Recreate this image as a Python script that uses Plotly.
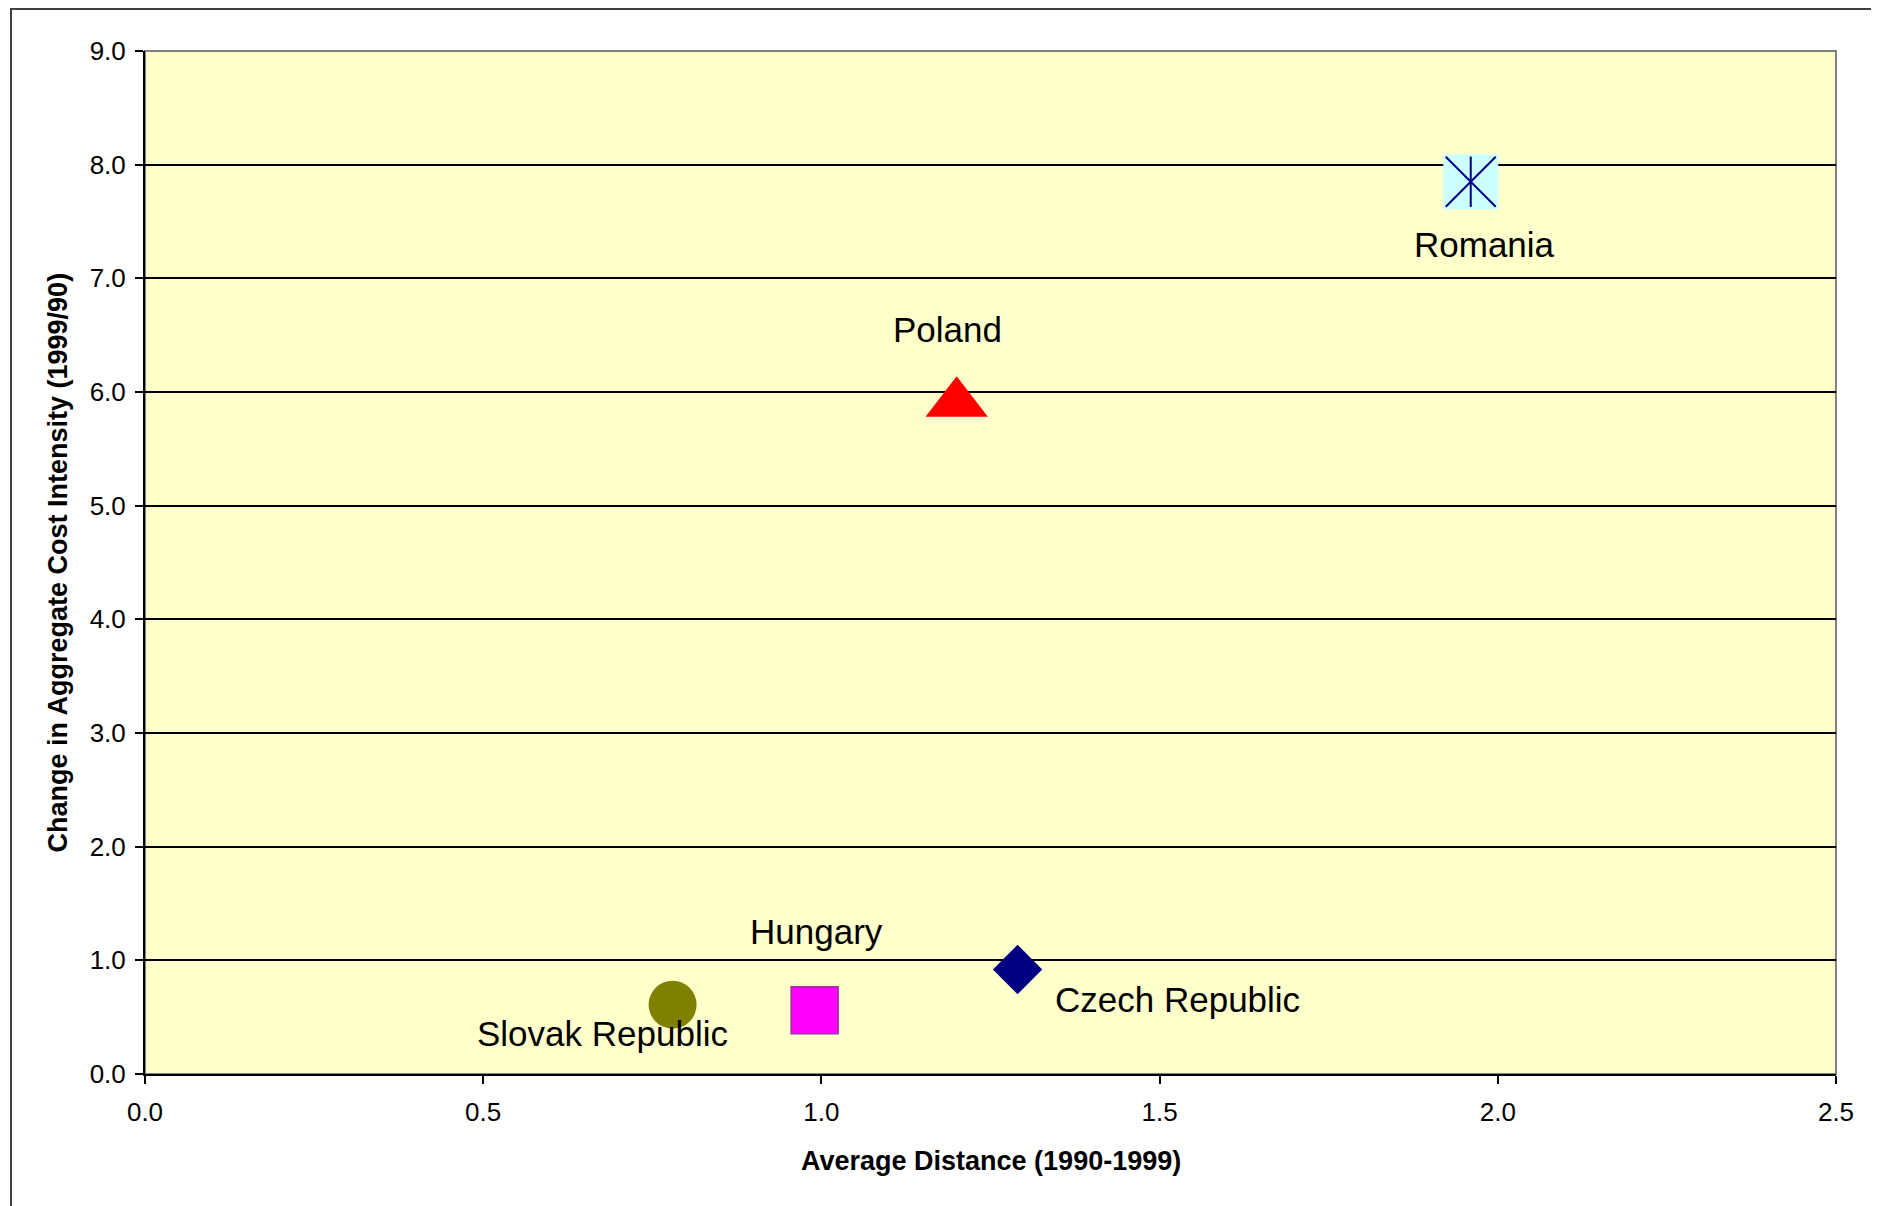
import plotly.graph_objects as go

# ---- data ----
countries = ["Slovak Republic", "Hungary", "Czech Republic", "Poland", "Romania"]
avg_distance = [0.78, 0.99, 1.29, 1.20, 1.96]
cost_intensity_change = [0.61, 0.56, 0.92, 5.90, 7.85]
x_ticks = [0.0, 0.5, 1.0, 1.5, 2.0, 2.5]
y_ticks = [0.0, 1.0, 2.0, 3.0, 4.0, 5.0, 6.0, 7.0, 8.0, 9.0]

# ---- styles ----
styles = {
    "Slovak Republic": dict(symbol="circle", size=48, color="#808000", line=dict(width=0, color="#808000")),
    "Hungary": dict(symbol="square", size=47, color="#FF00FF", line=dict(width=1.5, color="#993399")),
    "Czech Republic": dict(symbol="diamond", size=38, color="#000080", line=dict(width=0, color="#000080")),
    "Poland": dict(symbol="triangle-up", size=54, color="#FF0000", line=dict(width=0, color="#FF0000")),
    "Romania": dict(symbol="square", size=55, color="#CCFFFF", line=dict(width=0, color="#CCFFFF")),
}
label_offsets = {
    "Slovak Republic": (-70, -29),
    "Hungary": (2, 79),
    "Czech Republic": (160, -30),
    "Poland": (-9, 74),
    "Romania": (14, -63),
}

OFF = 8  # page body margin
SW, SH = 1879, 1206
W, H = SW - OFF, SH - OFF
L = 145 - OFF
T = 51 - OFF
R = W - (1836 - OFF)
B = H - (1074 - OFF)
pw, ph = W - L - R, H - T - B

def px_to_paper_x(sx):
    return (sx - OFF - L) / pw

def px_to_paper_y(sy):
    return (T + ph - (sy - OFF)) / ph

fig = go.Figure()
for c, xv, yv in zip(countries, avg_distance, cost_intensity_change):
    s = styles[c]
    fig.add_trace(go.Scatter(
        x=[xv], y=[yv], mode="markers", name=c, showlegend=False,
        marker=dict(symbol=s["symbol"], size=s["size"], color=s["color"], line=s["line"]),
        hoverinfo="text", text=[c],
    ))

# Romania star overlay
ri = countries.index("Romania")
fig.add_trace(go.Scatter(
    x=[avg_distance[ri]], y=[cost_intensity_change[ri]], mode="markers", showlegend=False,
    marker=dict(symbol="x-thin-open", size=50, color="#000080", line=dict(width=2, color="#000080")),
    hoverinfo="skip"))
fig.add_trace(go.Scatter(
    x=[avg_distance[ri]], y=[cost_intensity_change[ri]], mode="markers", showlegend=False,
    marker=dict(symbol="line-ns-open", size=36, color="#000080", line=dict(width=2, color="#000080")),
    hoverinfo="skip"))

annotations = []
for c, xv, yv in zip(countries, avg_distance, cost_intensity_change):
    dx, dy = label_offsets[c]
    annotations.append(dict(
        x=xv, y=yv, xref="x", yref="y", text=c, showarrow=False,
        xshift=dx, yshift=dy, xanchor="center", yanchor="middle",
        font=dict(family="Liberation Sans, Arial", size=35, color="#000000"),
    ))

annotations.append(dict(
    x=0.5, y=px_to_paper_y(1161), xref="paper", yref="paper",
    text="<b>Average Distance (1990-1999)</b>", showarrow=False,
    xanchor="center", yanchor="middle",
    font=dict(family="Liberation Sans, Arial", size=27, color="#000000")))
annotations.append(dict(
    x=px_to_paper_x(57), y=0.5, xref="paper", yref="paper",
    text="<b>Change in Aggregate Cost Intensity (1999/90)</b>", showarrow=False,
    textangle=-90, xanchor="center", yanchor="middle",
    font=dict(family="Liberation Sans, Arial", size=27, color="#000000")))

shapes = [
    # outer chart frame
    dict(type="rect", xref="paper", yref="paper",
         x0=px_to_paper_x(11), x1=px_to_paper_x(1873),
         y0=px_to_paper_y(1230), y1=px_to_paper_y(9),
         line=dict(color="#404040", width=2), fillcolor="rgba(0,0,0,0)", layer="below"),
    # plot-area border (gray)
    dict(type="rect", xref="paper", yref="paper", x0=0, x1=1, y0=0, y1=1,
         line=dict(color="#808080", width=2), fillcolor="rgba(0,0,0,0)", layer="below"),
]

tickfont = dict(family="Liberation Sans, Arial", size=26, color="#000000")
fig.update_layout(
    width=W, height=H,
    margin=dict(l=L, r=R, t=T, b=B),
    paper_bgcolor="#FFFFFF", plot_bgcolor="#FFFFCC",
    showlegend=False,
    annotations=annotations, shapes=shapes,
    xaxis=dict(range=[0, 2.5], tickvals=x_ticks, ticktext=[f"{v:.1f}" for v in x_ticks],
               showgrid=False, zeroline=False, showline=True, linecolor="#000000", linewidth=2,
               ticks="outside", ticklen=8, tickwidth=1.5, tickcolor="#000000",
               tickfont=tickfont, ticklabelstandoff=6),
    yaxis=dict(range=[0, 9], tickvals=y_ticks, ticktext=[f"{v:.1f}" for v in y_ticks],
               showgrid=True, gridcolor="#000000", gridwidth=1.5, zeroline=False,
               showline=True, linecolor="#000000", linewidth=2,
               ticks="outside", ticklen=8, tickwidth=1.5, tickcolor="#000000",
               tickfont=tickfont, ticklabelstandoff=4),
)

fig.write_html("out.html")
